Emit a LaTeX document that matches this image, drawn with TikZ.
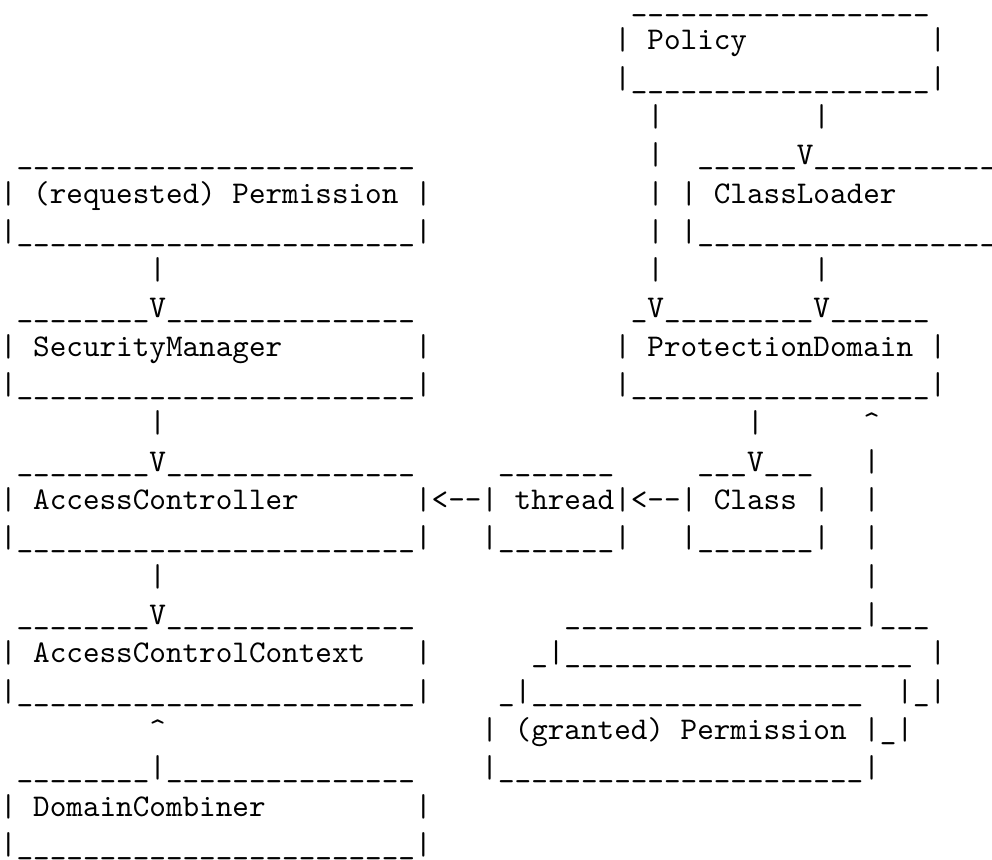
\documentclass[tikz,border=0pt]{standalone}
\usepackage{tikz}
\tikzset{txt/.style={anchor=base west, inner sep=0pt, outer sep=0pt, font=\fontsize{10}{12}\selectfont\ttfamily, text=black}}
\newcommand\cw{5.25pt}
\newcommand\rh{12.12pt}
\newcommand\yo{3.6pt}
\newcommand\fr[3]{\node[txt] (r#2c#1) at ({#1*\cw},{-\yo-#2*\rh}) {#3};}
\newcommand\usc[1]{\foreach \k in {1,...,#1}{\_}}
\newcommand\arr{\textless-\kern0pt-}
\begin{document}
\begin{tikzpicture}
\clip (0,0) rectangle (313.7pt,-271.7pt);
% row 0-3 Policy
\fr{38}{0}{\usc{18}}
\fr{37}{1}{|}\fr{39}{1}{Policy}\fr{56}{1}{|}
\fr{37}{2}{|}\fr{38}{2}{\usc{18}}\fr{56}{2}{|}
\fr{39}{3}{|}\fr{49}{3}{|}
% row 4
\fr{1}{4}{\usc{24}}
\fr{39}{4}{|}\fr{42}{4}{\usc{6}}\fr{48}{4}{V}\fr{49}{4}{\usc{12}}
% row 5
\fr{0}{5}{|}\fr{2}{5}{(requested)}\fr{14}{5}{Permission}\fr{25}{5}{|}
\fr{39}{5}{|}\fr{41}{5}{|}\fr{43}{5}{ClassLoader}
% row 6
\fr{0}{6}{|}\fr{1}{6}{\usc{24}}\fr{25}{6}{|}
\fr{39}{6}{|}\fr{41}{6}{|}\fr{42}{6}{\usc{19}}
% row 7
\fr{9}{7}{|}\fr{39}{7}{|}\fr{49}{7}{|}
% row 8
\fr{1}{8}{\usc{8}}\fr{9}{8}{V}\fr{10}{8}{\usc{15}}
\fr{38}{8}{\_}\fr{39}{8}{V}\fr{40}{8}{\usc{9}}\fr{49}{8}{V}\fr{50}{8}{\usc{6}}
% row 9
\fr{0}{9}{|}\fr{2}{9}{SecurityManager}\fr{25}{9}{|}
\fr{37}{9}{|}\fr{39}{9}{ProtectionDomain}\fr{56}{9}{|}
% row 10
\fr{0}{10}{|}\fr{1}{10}{\usc{24}}\fr{25}{10}{|}
\fr{37}{10}{|}\fr{38}{10}{\usc{18}}\fr{56}{10}{|}
% row 11
\fr{9}{11}{|}\fr{45}{11}{|}\fr{52}{11}{\textasciicircum}
% row 12
\fr{1}{12}{\usc{8}}\fr{9}{12}{V}\fr{10}{12}{\usc{15}}
\fr{30}{12}{\usc{7}}
\fr{42}{12}{\usc{3}}\fr{45}{12}{V}\fr{46}{12}{\usc{3}}
\fr{52}{12}{|}
% row 13
\fr{0}{13}{|}\fr{2}{13}{AccessController}\fr{25}{13}{|\arr|}
\fr{31}{13}{thread|\arr|}\fr{43}{13}{Class}\fr{49}{13}{|}\fr{52}{13}{|}
% row 14
\fr{0}{14}{|}\fr{1}{14}{\usc{24}}\fr{25}{14}{|}
\fr{29}{14}{|}\fr{30}{14}{\usc{7}}\fr{37}{14}{|}
\fr{41}{14}{|}\fr{42}{14}{\usc{7}}\fr{49}{14}{|}
\fr{52}{14}{|}
% row 15
\fr{9}{15}{|}\fr{52}{15}{|}
% row 16
\fr{1}{16}{\usc{8}}\fr{9}{16}{V}\fr{10}{16}{\usc{15}}
\fr{34}{16}{\usc{18}}\fr{52}{16}{|}\fr{53}{16}{\usc{3}}
% row 17
\fr{0}{17}{|}\fr{2}{17}{AccessControlContext}\fr{25}{17}{|}
\fr{32}{17}{\_|}\fr{34}{17}{\usc{21}}\fr{56}{17}{|}
% row 18
\fr{0}{18}{|}\fr{1}{18}{\usc{24}}\fr{25}{18}{|}
\fr{30}{18}{\_|}\fr{32}{18}{\usc{20}}\fr{54}{18}{|\_|}
% row 19
\fr{9}{19}{\textasciicircum}
\fr{29}{19}{|}\fr{31}{19}{(granted)}\fr{41}{19}{Permission}\fr{52}{19}{|\_|}
% row 20
\fr{1}{20}{\usc{8}}\fr{9}{20}{|}\fr{10}{20}{\usc{15}}
\fr{29}{20}{|}\fr{30}{20}{\usc{22}}\fr{52}{20}{|}
% row 21
\fr{0}{21}{|}\fr{2}{21}{DomainCombiner}\fr{25}{21}{|}
% row 22
\fr{0}{22}{|}\fr{1}{22}{\usc{24}}\fr{25}{22}{|}
\end{tikzpicture}
\end{document}
